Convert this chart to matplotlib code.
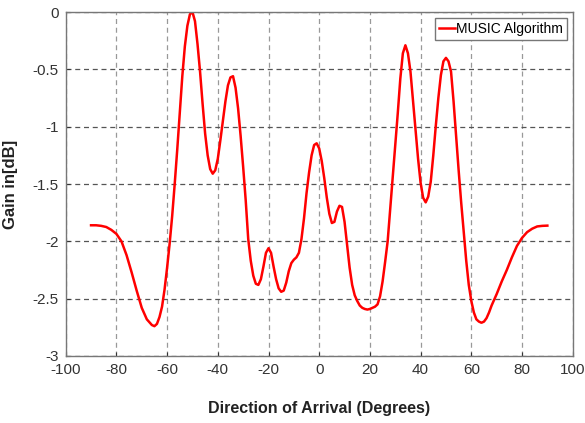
import matplotlib.pyplot as plt

# angle (degrees) and gain (dB)
angle = [-90, -88, -86, -84, -82, -80, -78, -76, -74, -72, -70, -68, -66, -65, -64,
         -63, -62, -61, -60, -59, -58, -57, -56, -55, -54, -53, -52, -51, -50, -49,
         -48, -47, -46, -45, -44, -43, -42, -41, -40, -39, -38, -37, -36, -35, -34,
         -33, -32, -31, -30, -29, -28, -27, -26, -25, -24, -23, -22, -21, -20, -19,
         -18, -17, -16, -15, -14, -13, -12, -11, -10, -9, -8, -7, -6, -5, -4,
         -3, -2, -1, 0, 1, 2, 3, 4, 5, 6, 7, 8, 9, 10, 11,
         12, 13, 14, 15, 16, 17, 18, 19, 20, 21, 22, 23, 24, 25, 26,
         27, 28, 29, 30, 31, 32, 33, 34, 35, 36, 37, 38, 39, 40, 41,
         42, 43, 44, 45, 46, 47, 48, 49, 50, 51, 52, 53, 54, 55, 56,
         57, 58, 59, 60, 61, 62, 63, 64, 65, 66, 67, 68, 69, 70, 72,
         74, 76, 78, 80, 82, 84, 86, 88, 90]
gain = [-1.86, -1.86, -1.865, -1.875, -1.90, -1.935, -2.0, -2.12, -2.27, -2.43, -2.58, -2.68, -2.73, -2.74, -2.72,
        -2.66, -2.57, -2.42, -2.23, -2.02, -1.78, -1.50, -1.20, -0.88, -0.56, -0.30, -0.12, -0.02, 0.0, -0.08,
        -0.28, -0.52, -0.80, -1.06, -1.25, -1.37, -1.41, -1.38, -1.28, -1.12, -0.95, -0.78, -0.64, -0.57, -0.56,
        -0.66, -0.84, -1.08, -1.35, -1.64, -1.98, -2.17, -2.30, -2.37, -2.38, -2.33, -2.22, -2.10, -2.06, -2.10,
        -2.22, -2.33, -2.41, -2.44, -2.43, -2.36, -2.26, -2.19, -2.16, -2.14, -2.10, -1.98, -1.80, -1.58, -1.40,
        -1.25, -1.16, -1.145, -1.19, -1.30, -1.45, -1.62, -1.76, -1.84, -1.83, -1.74, -1.69, -1.70, -1.83, -2.03,
        -2.23, -2.38, -2.47, -2.52, -2.56, -2.58, -2.59, -2.595, -2.59, -2.58, -2.57, -2.55, -2.48, -2.35, -2.18,
        -2.0, -1.72, -1.44, -1.17, -0.88, -0.58, -0.36, -0.29, -0.36, -0.52, -0.77, -1.03, -1.28, -1.49, -1.62,
        -1.66, -1.61, -1.48, -1.25, -0.99, -0.75, -0.55, -0.43, -0.40, -0.43, -0.52, -0.78, -1.08, -1.38, -1.66,
        -1.92, -2.17, -2.38, -2.52, -2.62, -2.68, -2.70, -2.71, -2.70, -2.67, -2.62, -2.56, -2.51, -2.46, -2.35,
        -2.25, -2.14, -2.04, -1.97, -1.92, -1.89, -1.87, -1.865, -1.863]

xticks = [-100, -80, -60, -40, -20, 0, 20, 40, 60, 80, 100]
yticks = [-3, -2.5, -2, -1.5, -1, -0.5, 0]
ytick_labels = ['-3', '-2.5', '-2', '-1.5', '-1', '-0.5', '0']

plt.rcParams['font.family'] = ['Liberation Sans', 'DejaVu Sans']
plt.rcParams['axes.unicode_minus'] = False

fig = plt.figure(figsize=(5.85, 4.23), dpi=100)
ax = fig.add_axes([0.1123, 0.1584, 0.8667, 0.8132])

ax.plot(angle, gain, color='red', lw=1.8, label='MUSIC Algorithm')

ax.set_xlim(-100, 100)
ax.set_ylim(-3, 0)
ax.set_xticks(xticks)
ax.set_yticks(yticks)
ax.set_yticklabels(ytick_labels)
ax.tick_params(direction='in', length=3, labelsize=11, colors='#333333', pad=5)

ax.xaxis.grid(True, linestyle=(0, (4, 3)), color='#999999', lw=0.9)
ax.yaxis.grid(True, linestyle=(0, (4, 3)), color='#555555', lw=0.9)
for s in ax.spines.values():
    s.set_color('#777777')
    s.set_linewidth(1.0)

ax.set_xlabel('Direction of Arrival (Degrees)', fontsize=11.5, fontweight='bold', color='#222222')
ax.xaxis.set_label_coords(0.5, -0.13)
ax.set_ylabel('Gain in[dB]', fontsize=12, fontweight='bold', color='#222222')
ax.yaxis.set_label_coords(-0.094, 0.5)

leg = ax.legend(loc='upper right', fontsize=10, handlelength=1.1, handletextpad=0.1,
                borderaxespad=0.4, fancybox=False, framealpha=1, borderpad=0.3)
leg.get_frame().set_edgecolor('#777777')

fig.savefig('out.png', dpi=100)
